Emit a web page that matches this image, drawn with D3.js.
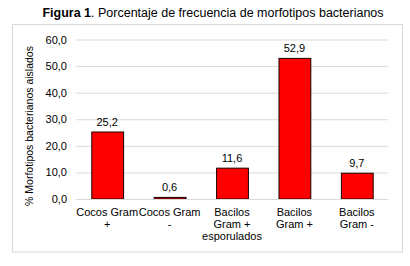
<!DOCTYPE html>
<html><head><meta charset="utf-8">
<script src="https://cdn.jsdelivr.net/npm/d3@7"></script>
<style>body{margin:0;background:#fff}svg{display:block;font-family:"Liberation Sans",Arial,sans-serif}</style>
</head><body><svg id="c" width="410" height="266"></svg>
<script>
const categories = ["Cocos Gram\n+", "Cocos Gram\n-", "Bacilos\nGram +\nesporulados", "Bacilos\nGram +", "Bacilos\nGram -"];
const values = [25.2, 0.6, 11.6, 52.9, 9.7];
const yTicks = [0, 10, 20, 30, 40, 50, 60];
const titleBold = "Figura 1";
const titleRest = ". Porcentaje de frecuencia de morfotipos bacterianos";
const yTitle = "% Morfotipos bacterianos aislados";

const svg = d3.select("#c");
const fmt = v => d3.format(".1f")(v).replace(".", ",");
const m = {l: 76, r: 388, t: 39.5, b: 199};

svg.append("rect").attr("x", 12.5).attr("y", 24.5).attr("width", 390).attr("height", 227.5)
  .attr("fill", "#fff").attr("stroke", "#d9d9d9");

const t = svg.append("text").attr("x", 213).attr("y", 17).attr("text-anchor", "middle")
  .attr("font-size", 12.5).attr("fill", "#000");
t.append("tspan").attr("font-weight", "bold").text(titleBold);
t.append("tspan").text(titleRest);

const x = d3.scaleBand().domain(categories).range([m.l, m.r]).paddingInner(0.49).paddingOuter(0.245);
const y = d3.scaleLinear().domain([0, 60]).range([m.b, m.t]);

const yAxis = svg.append("g").attr("transform", `translate(${m.l},0)`)
  .call(d3.axisLeft(y).tickValues(yTicks).tickFormat(fmt).tickSize(-(m.r - m.l)).tickPadding(9));
yAxis.select(".domain").remove();
yAxis.selectAll(".tick line").attr("stroke", "#d9d9d9");
yAxis.selectAll(".tick text").attr("font-size", 11).attr("fill", "#000").attr("font-family", "Liberation Sans, Arial, sans-serif");

svg.append("text").attr("transform", "translate(33,126) rotate(-90)").attr("text-anchor", "middle")
  .attr("font-size", 10.5).attr("fill", "#000").text(yTitle);

svg.selectAll("rect.bar").data(values).join("rect").attr("class", "bar")
  .attr("x", (d, i) => x(categories[i]) + 0.5).attr("width", x.bandwidth())
  .attr("y", d => y(d)).attr("height", d => y(0) - y(d))
  .attr("fill", "#ff0000").attr("stroke", "#1a0000").attr("stroke-width", 1);

svg.selectAll("text.lbl").data(values).join("text").attr("class", "lbl")
  .attr("x", (d, i) => x(categories[i]) + x.bandwidth() / 2).attr("y", d => y(d) - 6)
  .attr("text-anchor", "middle").attr("font-size", 11).attr("fill", "#000").text(fmt);

svg.append("line").attr("x1", m.l).attr("x2", m.r).attr("y1", m.b + 0.5).attr("y2", m.b + 0.5).attr("stroke", "#d9d9d9");

const xl = svg.selectAll("text.cat").data(categories).join("text").attr("class", "cat")
  .attr("text-anchor", "middle").attr("font-size", 11).attr("fill", "#000");
xl.each(function(d) {
  const cx = x(d) + x.bandwidth() / 2;
  d.split("\n").forEach((ln, k) => {
    d3.select(this).append("tspan").attr("x", cx).attr("y", 216 + k * 12).text(ln);
  });
});
</script></body></html>
